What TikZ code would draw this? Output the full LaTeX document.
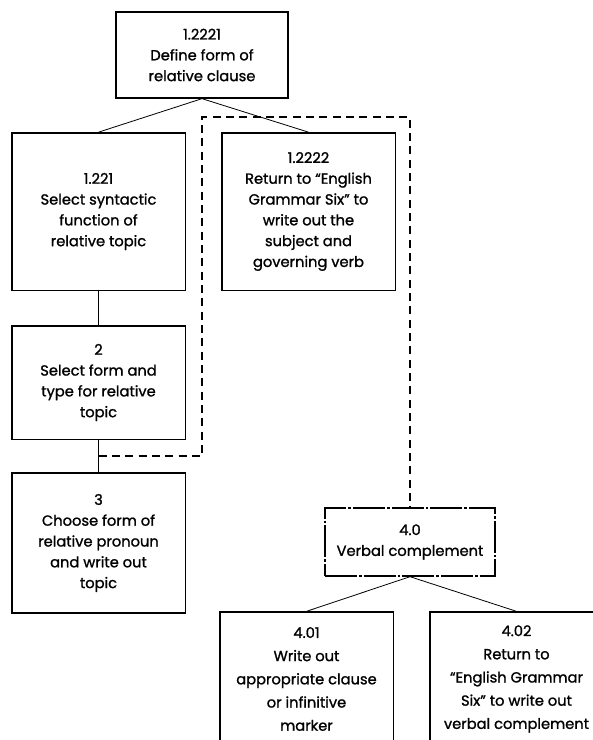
\documentclass[tikz,border=0pt]{standalone}
\usepackage{fontspec}
\setmainfont{Poppins}
\newfontfamily\boxfont{Poppins}[FakeBold=1.2]
\usepackage{tikz}
\usetikzlibrary{calc}
\usetikzlibrary{positioning}

\tikzset{
  stepbox/.style={draw, line width=1pt, align=center, inner sep=2pt,
    font=\boxfont\fontsize{11}{15.6}\selectfont},
  widebox/.style={stepbox, font=\boxfont\fontsize{11}{17.4}\selectfont},
  link/.style={line width=0.6pt},
  loopback/.style={line width=1.2pt, dash pattern=on 6pt off 4pt},
  dashbox/.style={stepbox, dash pattern=on 24pt off 1.5pt on 2pt off 1.5pt}
}

\begin{document}
\begin{tikzpicture}[x=0.75pt,y=-0.75pt]
      \useasboundingbox (0,0) rectangle (593,740);
      \clip (0,0) rectangle (593,740);

      % top of the tree
      \node[stepbox, minimum width=129pt, minimum height=64.5pt] (def) at (202,55)
        {1.2221\\Define form of\\relative clause};

      % left column
      \node[stepbox, minimum width=130pt, minimum height=118pt] (func) at (98.5,211.5)
        {1.221\\Select syntactic\\function of\\relative topic};
      \node[stepbox, minimum width=130pt, minimum height=85pt] (type) at (98.5,382.5)
        {2\\Select form and\\type for relative\\topic};
      \node[stepbox, minimum width=130pt, minimum height=105pt] (pron) at (98.5,543)
        {3\\Choose form of\\relative pronoun\\and write out\\topic};

      % right column
      \node[stepbox, minimum width=130pt, minimum height=118pt] (ret) at (308.5,211.5)
        {1.2222\\Return to “English\\Grammar Six” to\\write out the\\subject and\\governing verb};
      \node[dashbox, minimum width=127.5pt, minimum height=51pt] (verb) at (410,542)
        {4.0\\Verbal complement};
      \node[widebox, minimum width=130pt, minimum height=100.5pt] (mark) at (306.5,679)
        {4.01\\Write out\\appropriate clause\\or infinitive\\marker};
      \node[widebox, minimum width=130pt, minimum height=100.5pt] (comp) at (516.5,679)
        {4.02\\Return to\\“English Grammar\\Six” to write out\\verbal complement};

      % connectors
      \draw[link] (def.south) -- (func.north);
      \draw[link] (def.south) -- (ret.north);
      \draw[link] (func) -- (type);
      \draw[link] (type) -- (pron);
      \draw[link] (verb.south) -- (mark.north);
      \draw[link] (verb.south) -- (comp.north);

      % dashed return path
      \coordinate (jn) at ($(type.south)!0.5!(pron.north)$);
      \coordinate (bend) at (202,117);
      \draw[loopback] (jn) -| (bend) -| (verb.north);
    \end{tikzpicture}
\end{document}
